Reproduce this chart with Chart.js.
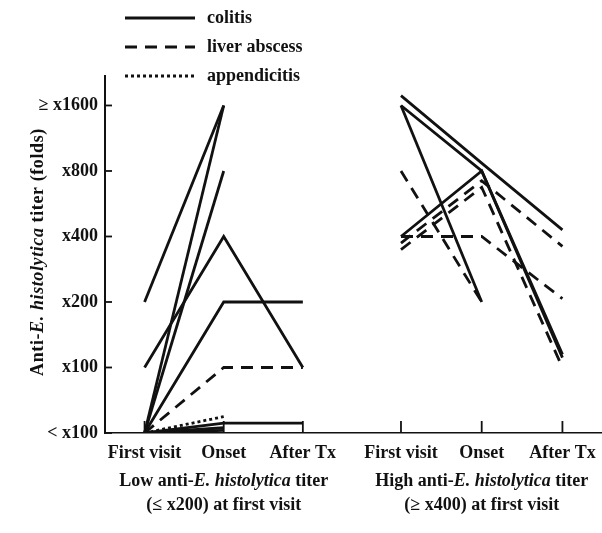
<!DOCTYPE html>
<html><head><meta charset="utf-8">
<script src="https://cdn.jsdelivr.net/npm/chart.js@4/dist/chart.umd.min.js"></script>
<style>html,body{margin:0;padding:0;background:#fff;}canvas{display:block;}</style>
</head><body>
<canvas id="c" width="602" height="533"></canvas>
<script>
// ---- data (titer levels: 0 = <x100, 1 = x100, 2 = x200, 3 = x400, 4 = x800, 5 = >=x1600) ----
const stageLabels = ['First visit', 'Onset', 'After Tx'];
const titerLabels = ['< x100', 'x100', 'x200', 'x400', 'x800', '\u2265 x1600'];
// Low titer group: each row = [first visit, onset, after Tx]
const lowColitis = [[0, 5, null], [0, 4, null], [0, 2, 2], [1, 3, 1], [2, 5, null], [0, 0.15, 0.15], [0, 0.08, null], [0, 0.04, null]];
const lowLiverAbscess = [[0, 1, 1]];
const lowAppendicitis = [[0, 0.25, null]];
// High titer group
const highColitis = [[5.15, 4.12, 3.1], [5, 4, 1.2], [5, 2, null], [3, 4, 1.15]];
const highLiverAbscess = [[4, 2, null], [3, 3, 2.05], [2.9, 3.85, 2.85], [2.8, 3.75, 1]];
const diseaseNames = ['colitis', 'liver abscess', 'appendicitis'];

// ---- layout constants ----
const lowPos = [0, 1, 2];
const highPos = [3.24, 4.26, 5.28];
const dashes = { 'colitis': [], 'liver abscess': [12, 8], 'appendicitis': [3, 3] };
const INK = '#111';
const FONT = '"Liberation Serif", "Times New Roman", serif';
const FS = 18;

function makeSets(rows, pos, kind) {
  return rows.map(r => ({
    label: kind,
    data: r.map((v, i) => ({ x: pos[i], y: v })),
    borderColor: INK,
    borderWidth: 2.8,
    borderDash: dashes[kind],
    pointRadius: 0,
    pointHoverRadius: 0,
    fill: false,
    tension: 0,
    spanGaps: false
  }));
}

const datasets = [
  ...makeSets(lowColitis, lowPos, 'colitis'),
  ...makeSets(lowLiverAbscess, lowPos, 'liver abscess'),
  ...makeSets(lowAppendicitis, lowPos, 'appendicitis'),
  ...makeSets(highColitis, highPos, 'colitis'),
  ...makeSets(highLiverAbscess, highPos, 'liver abscess')
];

function drawRich(ctx, segs, cx, cy, size) {
  let total = 0;
  segs.forEach(s => { ctx.font = (s[1] ? 'italic ' : '') + 'bold ' + size + 'px ' + FONT; total += ctx.measureText(s[0]).width; });
  let x = cx - total / 2;
  ctx.textAlign = 'left';
  ctx.textBaseline = 'middle';
  segs.forEach(s => { ctx.font = (s[1] ? 'italic ' : '') + 'bold ' + size + 'px ' + FONT; ctx.fillText(s[0], x, cy); x += ctx.measureText(s[0]).width; });
}

const decor = {
  id: 'decor',
  afterDraw(chart) {
    const ctx = chart.ctx;
    const xs = chart.scales.x, ys = chart.scales.y;
    const ca = chart.chartArea;
    ctx.save();
    ctx.strokeStyle = INK;
    ctx.fillStyle = INK;
    ctx.setLineDash([]);
    // inward tick marks
    ctx.lineWidth = 1.8;
    ys.ticks.forEach(t => { const py = ys.getPixelForValue(t.value); ctx.beginPath(); ctx.moveTo(ca.left, py); ctx.lineTo(ca.left + 7, py); ctx.stroke(); });
    xs.ticks.forEach(t => { const px = xs.getPixelForValue(t.value); ctx.beginPath(); ctx.moveTo(px, ca.bottom); ctx.lineTo(px, ca.bottom - 12); ctx.stroke(); });
    // legend
    const ly = [18, 47, 76];
    diseaseNames.forEach((n, i) => {
      ctx.lineWidth = 3;
      ctx.setLineDash(dashes[n]);
      ctx.beginPath(); ctx.moveTo(125, ly[i]); ctx.lineTo(195, ly[i]); ctx.stroke();
      ctx.setLineDash([]);
      ctx.font = 'bold ' + FS + 'px ' + FONT;
      ctx.textAlign = 'left'; ctx.textBaseline = 'middle';
      ctx.fillText(n, 207, ly[i]);
    });
    // y axis title
    ctx.save();
    ctx.translate(38, 252);
    ctx.rotate(-Math.PI / 2);
    if ('letterSpacing' in ctx) ctx.letterSpacing = '0.6px';
    drawRich(ctx, [['Anti-', false], ['E. histolytica', true], [' titer (folds)', false]], 0, 0, FS);
    if ('letterSpacing' in ctx) ctx.letterSpacing = '0px';
    ctx.restore();
    // group captions
    const lc = (xs.getPixelForValue(lowPos[0]) + xs.getPixelForValue(lowPos[2])) / 2;
    const hc = (xs.getPixelForValue(highPos[0]) + xs.getPixelForValue(highPos[2])) / 2;
    drawRich(ctx, [['Low anti-', false], ['E. histolytica', true], [' titer', false]], lc, 481, FS);
    drawRich(ctx, [['(\u2264 x200) at first visit', false]], lc, 505, FS);
    drawRich(ctx, [['High anti-', false], ['E. histolytica', true], [' titer', false]], hc, 481, FS);
    drawRich(ctx, [['(\u2265 x400) at first visit', false]], hc, 505, FS);
    ctx.restore();
  }
};

const allPos = [...lowPos, ...highPos];

new Chart(document.getElementById('c'), {
  type: 'line',
  data: { datasets },
  options: {
    responsive: false,
    animation: false,
    devicePixelRatio: 1,
    layout: { padding: { top: 76, right: 0, bottom: 0, left: 0 } },
    plugins: { legend: { display: false }, tooltip: { enabled: false } },
    scales: {
      x: {
        type: 'linear',
        min: -0.5,
        max: 5.78,
        afterBuildTicks: s => { s.ticks = allPos.map(v => ({ value: v })); },
        afterFit: s => { s.height = 100; s.paddingLeft = 0; s.paddingRight = 0; },
        ticks: {
          autoSkip: false,
          maxRotation: 0,
          padding: 10,
          color: INK,
          font: { family: FONT, size: FS, weight: 'bold' },
          callback: (v, i) => stageLabels[i % 3]
        },
        grid: { display: true, drawOnChartArea: false, drawTicks: false },
        border: { display: true, color: INK, width: 1.6 }
      },
      y: {
        type: 'linear',
        min: 0,
        max: 5.45,
        afterBuildTicks: s => { s.ticks = titerLabels.map((_, i) => ({ value: i })); },
        afterFit: s => { s.width = 105; s.paddingTop = 0; s.paddingBottom = 0; },
        ticks: {
          autoSkip: false,
          padding: 7,
          color: INK,
          font: { family: FONT, size: FS, weight: 'bold' },
          callback: (v) => titerLabels[v]
        },
        grid: { display: true, drawOnChartArea: false, drawTicks: false },
        border: { display: true, color: INK, width: 2 }
      }
    }
  },
  plugins: [decor]
});
</script>
</body></html>
